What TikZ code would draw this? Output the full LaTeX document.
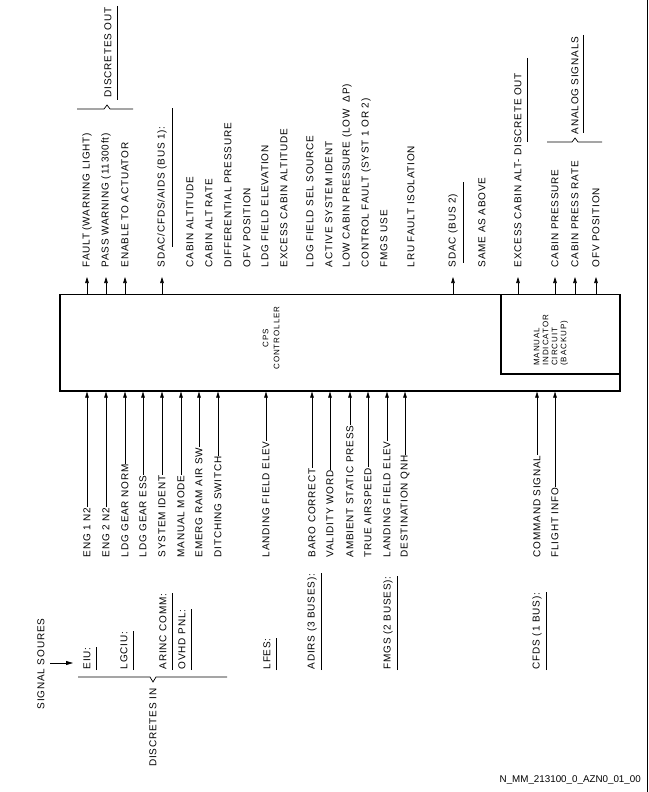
\documentclass[tikz,border=0pt]{standalone}
\usepackage{fontspec}
\setmainfont{Liberation Sans}
\newfontfamily\labfont[LetterSpace=8]{Liberation Sans}
\newfontfamily\smfont[LetterSpace=12]{Liberation Sans}
\usetikzlibrary{arrows.meta,calc}
\begin{document}
\begin{tikzpicture}[x=1pt,y=-1pt,
  lbl/.style={font=\labfont\fontsize{10}{12}\selectfont, rotate=90, inner sep=0.5pt, anchor=west},
  arr/.style={-{Triangle[length=6pt,width=3.6pt]}, line width=0.6pt},
  ul/.style={line width=0.7pt},
  thickbox/.style={draw, line width=1.6pt, inner sep=0pt}]
\useasboundingbox (0,0) rectangle (648,792);

% main box and inner box
\node[thickbox, anchor=north west, minimum width=560pt, minimum height=96.5pt] (box) at (59,293.5) {};
\node[thickbox, anchor=north east, minimum width=119pt, minimum height=79.5pt] (mic) at (box.north east) {};
\node[font=\smfont\fontsize{8}{11}\selectfont, rotate=90, align=center, inner sep=0pt] (cps) at (271,338) {CPS\\CONTROLLER};
\node[font=\smfont\fontsize{8}{9}\selectfont, rotate=90, align=left, anchor=west, inner sep=0pt] (mictext) at (551,366) {MANUAL\\INDICATOR\\CIRCUIT\\(BACKUP)};

% top outputs with arrows
\foreach \n/\x/\t in {t1/87/FAULT (WARNING LIGHT), t2/106/PASS WARNING (11300ft), t3/125/ENABLE TO ACTUATOR,
  t4/162/{SDAC/CFDS/AIDS (BUS 1):}, t5/453/SDAC (BUS 2), t6/518/EXCESS CABIN ALT- DISCRETE OUT,
  t7/555/CABIN PRESSURE, t8/575/CABIN PRESS RATE, t9/596/OFV POSITION}{
  \node[lbl] (\n) at (\x,268) {\t};
  \draw[arr, shorten >=9pt] (box.north -| \n.west) -- (\n.west);
}
% top items without arrows
\foreach \n/\x/\t in {c1/190/CABIN ALTITUDE, c2/209/CABIN ALT RATE, c3/228/DIFFERENTIAL PRESSURE,
  c4/247/OFV POSITION, c5/265/LDG FIELD ELEVATION, c6/284/EXCESS CABIN ALTITUDE,
  c7/310/LDG FIELD SEL SOURCE, c8/329/ACTIVE SYSTEM IDENT, c10/366/CONTROL FAULT (SYST 1 OR 2),
  c11/384/FMGS USE, c12/411/LRU FAULT ISOLATION, c13/482/SAME AS ABOVE}{
  \node[lbl] (\n) at (\x,268) {\t};
}
\node[lbl] (c9) at (347,268) {LOW CABIN PRESSURE (LOW\hspace{7pt}ΔP)};

% top underlines
\draw[ul] (172,108) -- (172,247);
\draw[ul] (463,182) -- (463,263);
\draw[ul] (527,58) -- (527,142);

% top braces and group labels
\draw[ul] (77,109) -- (104,109) -- (107,105) -- (110,109) -- (133,109);
\node[lbl] (dout) at (108,98) {DISCRETES OUT};
\draw[ul] (117,6) -- (117,100);
\draw[ul] (547,142) -- (572,142) -- (575,138) -- (578,142) -- (602,142);
\node[lbl] (asig) at (575,135) {ANALOG SIGNALS};
\draw[ul] (583,35) -- (583,133);

% bottom inputs
\foreach \n/\x/\t in {b1/87/ENG 1 N2, b2/106/ENG 2 N2, b3/125/LDG GEAR NORM, b4/143/LDG GEAR ESS,
  b5/162/SYSTEM IDENT, b6/181/MANUAL MODE, b7/199/EMERG RAM AIR SW, b8/218/DITCHING SWITCH,
  b9/266/LANDING FIELD ELEV, b10/312/BARO CORRECT, b11/330/VALIDITY WORD, b12/350/AMBIENT STATIC PRESS,
  b13/368/TRUE AIRSPEED, b14/387/LANDING FIELD ELEV, b15/405/DESTINATION QNH,
  b16/537/COMMAND SIGNAL, b17/555/FLIGHT INFO}{
  \node[lbl] (\n) at (\x,558) {\t};
  \draw[arr] (\n.east) -- (\n.east |- box.south);
}

% bottom source headers with underlines
\foreach \n/\x/\t in {h1/87/EIU:, h2/124/LGCIU:, h3/163/ARINC COMM:, h4/182/OVHD PNL:, h5/267/LFES:,
  h6/312/ADIRS (3 BUSES):, h7/388/FMGS (2 BUSES):, h8/537/CFDS (1 BUS):}{
  \node[lbl] (\n) at (\x,670) {\t};
  \draw[ul] ($(\n.west)+(9,0)$) -- ($(\n.east)+(9,0)$);
}

% discretes in brace
\draw[ul] (78,677) -- (150,677) -- (153,682) -- (156,677) -- (227,677);
\node[lbl, anchor=east] (din) at (153,688) {DISCRETES IN};

% signal sources
\node[lbl, anchor=center] (src) at (41,664) {SIGNAL SOURES};
\coordinate (srcstart) at (50,663);
\coordinate (srcend) at (73,663);
\draw[-{Triangle[length=7pt,width=4pt]}, line width=0.8pt] (srcstart) -- (srcend);

% figure id
\node[font=\fontsize{9.8}{12}\selectfont, anchor=east, inner sep=0pt] (fid) at (641,780) {N\_MM\_213100\_0\_AZN0\_01\_00};

% right border
\draw[line width=0.8pt] (647,0) -- (647,792);
\end{tikzpicture}
\end{document}
